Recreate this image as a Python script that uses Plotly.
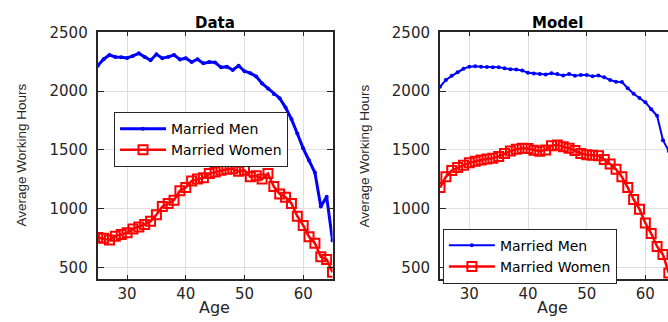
import plotly.graph_objects as go

ages_data = list(range(25, 66))
data_men = [2216, 2271, 2307, 2291, 2288, 2282, 2299, 2321, 2291, 2263,
            2313, 2280, 2291, 2307, 2269, 2280, 2247, 2271, 2236, 2247,
            2244, 2202, 2208, 2180, 2216, 2169, 2153, 2125, 2065, 2023,
            1975, 1940, 1860, 1762, 1640, 1514, 1410, 1307, 1018, 1101, 729]
data_women = [756, 748, 734, 767, 781, 795, 828, 845, 866, 894,
              949, 1018, 1045, 1073, 1153, 1180, 1236, 1252, 1263, 1299,
              1313, 1327, 1335, 1340, 1318, 1327, 1271, 1280, 1252, 1299,
              1189, 1126, 1098, 1045, 936, 858, 762, 707, 591, 569, 459]

ages_model = list(range(25, 65))
model_men = [2037, 2095, 2130, 2160, 2190, 2208, 2212, 2207, 2205, 2203,
             2204, 2195, 2185, 2183, 2175, 2156, 2150, 2145, 2141, 2152,
             2145, 2132, 2145, 2130, 2138, 2137, 2127, 2133, 2117, 2095,
             2080, 2077, 2025, 1978, 1942, 1906, 1846, 1790, 1583, 1490]
model_women = [1180, 1271, 1325, 1350, 1370, 1390, 1404, 1415, 1422, 1430,
               1445, 1470, 1490, 1505, 1514, 1512, 1498, 1488, 1500, 1535,
               1541, 1528, 1514, 1495, 1470, 1459, 1455, 1450, 1418, 1381,
               1335, 1271, 1180, 1079, 996, 878, 789, 679, 610, 453]

x_ticks = [30, 40, 50, 60]
y_ticks = [500, 1000, 1500, 2000, 2500]
titles = ["Data", "Model"]
x_label = "Age"
y_label = "Average Working Hours"
series_names = ["Married Men", "Married Women"]

TXT = "#262626"
BLUE = "#0000ff"
RED = "#ff0000"
TICKFONT = dict(family="DejaVu Sans", size=15, color=TXT)

fig = go.Figure()

fig.add_trace(go.Scatter(x=ages_data, y=data_men, mode="lines+markers", name=series_names[0],
                         line=dict(color=BLUE, width=3), marker=dict(symbol="circle", size=4, color=BLUE),
                         xaxis="x", yaxis="y", legend="legend"))
fig.add_trace(go.Scatter(x=ages_data, y=data_women, mode="lines+markers", name=series_names[1],
                         line=dict(color=RED, width=2.5),
                         marker=dict(symbol="square-open", size=9, color=RED, line=dict(width=2, color=RED)),
                         xaxis="x", yaxis="y", legend="legend"))
fig.add_trace(go.Scatter(x=ages_model, y=model_men, mode="lines+markers", name=series_names[0],
                         line=dict(color=BLUE, width=2), marker=dict(symbol="circle", size=4, color=BLUE),
                         xaxis="x2", yaxis="y2", legend="legend2"))
fig.add_trace(go.Scatter(x=ages_model, y=model_women, mode="lines+markers", name=series_names[1],
                         line=dict(color=RED, width=2.5),
                         marker=dict(symbol="square-open", size=9, color=RED, line=dict(width=2, color=RED)),
                         xaxis="x2", yaxis="y2", legend="legend2"))

xcommon = dict(tickvals=x_ticks, showgrid=True, gridcolor="#dfdfdf", gridwidth=1,
               showline=True, linecolor=TXT, linewidth=1.5, ticks="inside", ticklen=4,
               tickcolor=TXT, tickfont=TICKFONT, zeroline=False, ticklabelstandoff=0)
ycommon = dict(tickvals=y_ticks, range=[403, 2500], showgrid=True, gridcolor="#dfdfdf", gridwidth=1,
               showline=True, linecolor=TXT, linewidth=2, ticks="inside", ticklen=6,
               tickcolor=TXT, tickfont=TICKFONT, zeroline=False, ticklabelstandoff=5,
               domain=[0.1376, 0.9255])

legend_common = dict(xanchor="left", yanchor="top", bgcolor="white", bordercolor=TXT, borderwidth=1,
                     font=dict(family="DejaVu Sans", size=14, color="#000000"),
                     tracegroupgap=0, itemwidth=46)

fig.update_layout(
    width=668, height=322,
    margin=dict(l=0, r=0, t=0, b=0),
    plot_bgcolor="white", paper_bgcolor="white",
    xaxis=dict(xcommon, domain=[0.1463, 0.4978], range=[25, 65], anchor="y", mirror="ticks"),
    yaxis=dict(ycommon, anchor="x", mirror="ticks"),
    xaxis2=dict(xcommon, domain=[0.6587, 1.0], range=[25, 63.86], anchor="y2", mirror="ticks"),
    yaxis2=dict(ycommon, anchor="x2", mirror=False),
    legend=dict(legend_common, x=0.1707, y=1 - 106 / 322),
    legend2=dict(legend_common, x=0.663, y=1 - 226 / 322),
    showlegend=True,
)

ann = []
for t, xc in zip(titles, [215 / 668, 557 / 668]):
    ann.append(dict(text=t, x=xc, y=1 - 14 / 322, xref="paper", yref="paper",
                    showarrow=False, xanchor="center", yanchor="middle",
                    font=dict(family="DejaVu Sans", size=15, color="#000000", weight="bold")))
for xc in [214 / 668, 552 / 668]:
    ann.append(dict(text=x_label, x=xc, y=1 - 307 / 322, xref="paper", yref="paper",
                    showarrow=False, xanchor="center", yanchor="middle",
                    font=dict(family="DejaVu Sans", size=16, color=TXT)))
for xc in [22 / 668, 365 / 668]:
    ann.append(dict(text=y_label, x=xc, y=1 - 150.8 / 322, xref="paper", yref="paper",
                    showarrow=False, xanchor="center", yanchor="middle", textangle=-90,
                    font=dict(family="Liberation Sans, Arial", size=13.5, color=TXT)))
fig.update_layout(annotations=ann)

fig.write_html("out.html", config={"displayModeBar": False},
               post_script="document.body.style.margin='0';document.body.style.overflow='hidden';")
